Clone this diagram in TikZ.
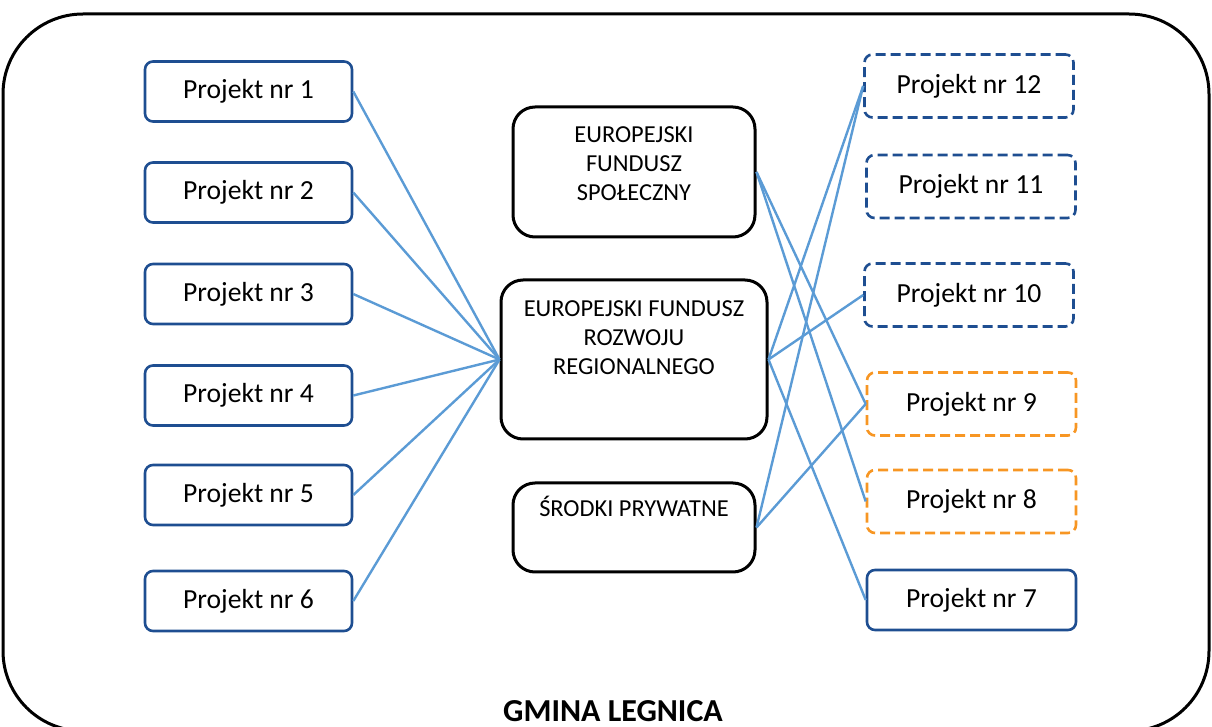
\documentclass[tikz,border=0pt]{standalone}
\usepackage{fontspec}
\setmainfont{Carlito}
\usepackage{tikz}
\usetikzlibrary{positioning}

\definecolor{projblue}{RGB}{30,78,145}
\definecolor{linkblue}{RGB}{91,155,213}
\definecolor{projorange}{RGB}{247,150,35}

\begin{document}
\begin{tikzpicture}[x=0.5pt, y=-0.5pt,
    projbox/.style={rectangle, rounded corners=4pt, draw=#1, line width=1.3pt, minimum width=103.5pt, minimum height=30pt, inner sep=0pt, font=\fontsize{13.8}{16}\selectfont},
    projbox/.default=projblue,
    planbox/.style={projbox=#1, minimum width=104.5pt, minimum height=31.5pt, dash pattern=on 5pt off 2.5pt},
    fundbox/.style={rectangle, rounded corners=11pt, draw, line width=1.5pt, inner sep=0pt},
    fundtext/.style={align=center, inner sep=0pt, font=\fontsize{12.2}{14.5}\selectfont},
    link/.style={linkblue, line width=1.2pt}
]
\useasboundingbox (0,0) rectangle (1212,727);
\clip (0,0) rectangle (1212,727);

% gmina frame
\draw[line width=1.5pt, rounded corners=40pt] (3,14) rectangle (1209,731);
\node[font=\fontsize{16}{19}\selectfont\bfseries, anchor=base] (gmina) at (613,721) {GMINA LEGNICA};

% projects on the left
\foreach \i/\y in {1/91.5, 2/192.5, 3/294, 4/395.5, 5/495, 6/601} {
    \node[projbox] (p\i) at (248.5,\y) {Projekt nr \i};
}

% projects on the right
\node[planbox=projblue] (p12) at (969,86) {Projekt nr 12};
\node[planbox=projblue] (p11) at (971,186.5) {Projekt nr 11};
\node[planbox=projblue] (p10) at (969,295) {Projekt nr 10};
\node[planbox=projorange] (p9) at (971.5,404) {Projekt nr 9};
\node[planbox=projorange] (p8) at (971.5,501.5) {Projekt nr 8};
\node[projbox, minimum width=104.5pt] (p7) at (971.5,600) {Projekt nr 7};

% funds
\node[fundbox, minimum width=121pt, minimum height=65pt] (efs) at (634,172) {};
\node[fundtext, below=10.5pt of efs.north] (efs text) {EUROPEJSKI\\FUNDUSZ\\SPOŁECZNY};
\node[fundbox, minimum width=133pt, minimum height=79.5pt] (efrr) at (634,359.5) {};
\node[fundtext, below=11pt of efrr.north] (efrr text) {EUROPEJSKI FUNDUSZ\\ROZWOJU\\REGIONALNEGO};
\node[fundbox, minimum width=121pt, minimum height=44.5pt] (priv) at (634,527.5) {};
\node[fundtext, below=7pt of priv.north] (priv text) {ŚRODKI PRYWATNE};

% links
\foreach \i in {1,...,6} {
    \draw[link] (p\i.east) -- (efrr.west);
}
\draw[link] (efs.east) -- (p9.west);
\draw[link] (efs.east) -- (p8.west);
\draw[link] (efrr.east) -- (p12.west);
\draw[link] (efrr.east) -- (p10.west);
\draw[link] (efrr.east) -- (p7.west);
\draw[link] (priv.east) -- (p12.west);
\draw[link] (priv.east) -- (p9.west);

\end{tikzpicture}
\end{document}
